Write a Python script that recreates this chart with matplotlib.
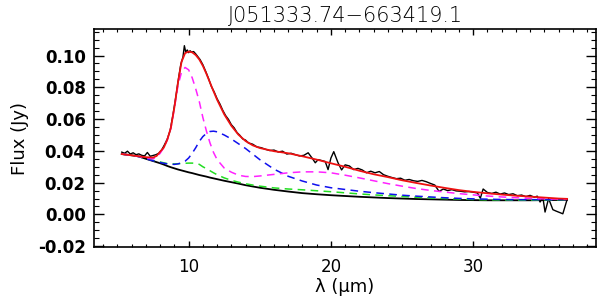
import matplotlib
matplotlib.use("Agg")
import matplotlib.pyplot as plt
from matplotlib.ticker import MultipleLocator, FormatStrFormatter

plt.rcParams['font.family'] = ['DejaVu Sans']

# model grid (micron)
lam_mod = [5.3, 6.0, 6.5, 7.0, 7.5, 7.75, 8.0, 8.25, 8.5, 8.75, 9.0, 9.25, 9.5, 9.75,
           10.0, 10.25, 10.5, 10.75, 11.0, 11.25, 11.5, 11.75, 12.0, 12.5, 13.0, 13.5,
           14.0, 14.5, 15.0, 16.0, 17.0, 18.0, 19.0, 20.0, 21.0, 22.0, 23.0, 24.0, 25.0,
           26.0, 27.0, 28.0, 29.0, 30.0, 31.0, 32.0, 33.0, 34.0, 35.0, 36.0, 36.6]

# stellar / dust continuum (black solid)
cont = [0.0380, 0.0372, 0.0365, 0.0350, 0.0336, 0.0329, 0.0322, 0.0314, 0.0305, 0.0297,
        0.0290, 0.0283, 0.0277, 0.0271, 0.0265, 0.0260, 0.0254, 0.0248, 0.0243, 0.0238,
        0.0232, 0.0227, 0.0222, 0.0212, 0.0203, 0.0194, 0.0184, 0.0176, 0.0168, 0.0155,
        0.0144, 0.0134, 0.0127, 0.0121, 0.0116, 0.0111, 0.0107, 0.0103, 0.0100, 0.0097,
        0.0095, 0.0093, 0.0091, 0.0090, 0.0089, 0.0089, 0.0089, 0.0089, 0.0090, 0.0091,
        0.0092]

# continuum + component curves (dashed)
comp_green = [0.0380, 0.0372, 0.0365, 0.0352, 0.0340, 0.0335, 0.0330, 0.0325, 0.0320, 0.0318,
              0.0318, 0.0319, 0.0320, 0.0322, 0.0323, 0.0323, 0.0322, 0.0315, 0.0300, 0.0288,
              0.0275, 0.0262, 0.0250, 0.0230, 0.0215, 0.0203, 0.0193, 0.0185, 0.0178, 0.0167,
              0.0160, 0.0155, 0.0149, 0.0143, 0.0136, 0.0129, 0.0123, 0.0118, 0.0113, 0.0108,
              0.0104, 0.0100, 0.0097, 0.0094, 0.0092, 0.0091, 0.0090, 0.0090, 0.0091, 0.0092,
              0.0093]

comp_magenta = [0.0380, 0.0372, 0.0365, 0.0355, 0.0350, 0.0360, 0.0385, 0.0420, 0.0470, 0.0540,
                0.0670, 0.0810, 0.0895, 0.0925, 0.0910, 0.0860, 0.0790, 0.0710, 0.0610, 0.0525,
                0.0450, 0.0390, 0.0345, 0.0292, 0.0266, 0.0247, 0.0239, 0.0238, 0.0242, 0.0252,
                0.0262, 0.0268, 0.0268, 0.0262, 0.0247, 0.0230, 0.0212, 0.0194, 0.0178, 0.0163,
                0.0151, 0.0141, 0.0131, 0.0123, 0.0116, 0.0110, 0.0105, 0.0101, 0.0098, 0.0096,
                0.0095]

comp_blue = [0.0380, 0.0372, 0.0364, 0.0350, 0.0338, 0.0332, 0.0327, 0.0322, 0.0318, 0.0316,
             0.0315, 0.0318, 0.0325, 0.0335, 0.0355, 0.0385, 0.0420, 0.0460, 0.0490, 0.0510,
             0.0522, 0.0524, 0.0520, 0.0500, 0.0475, 0.0445, 0.0415, 0.0380, 0.0345, 0.0285,
             0.0240, 0.0210, 0.0185, 0.0168, 0.0157, 0.0146, 0.0137, 0.0129, 0.0121, 0.0115,
             0.0110, 0.0105, 0.0101, 0.0098, 0.0096, 0.0094, 0.0093, 0.0093, 0.0093, 0.0093,
             0.0094]

# total model (red)
model_total = [0.0380, 0.0372, 0.0366, 0.0360, 0.0358, 0.0368, 0.0395, 0.0420, 0.0470, 0.0545,
               0.0675, 0.0830, 0.0960, 0.1015, 0.1025, 0.1020, 0.1003, 0.0975, 0.0935, 0.0885,
               0.0830, 0.0775, 0.0722, 0.0630, 0.0558, 0.0502, 0.0462, 0.0435, 0.0418, 0.0398,
               0.0385, 0.0366, 0.0345, 0.0322, 0.0300, 0.0275, 0.0253, 0.0235, 0.0215, 0.0198,
               0.0182, 0.0167, 0.0153, 0.0142, 0.0133, 0.0125, 0.0118, 0.0112, 0.0106, 0.0100,
               0.0098]

# observed spectrum (black)
lam_obs = [5.3, 5.5, 5.7, 5.9, 6.1, 6.3, 6.5, 6.7, 6.9, 7.1, 7.3, 7.5, 7.7, 7.9,
           8.1, 8.3, 8.5, 8.7, 8.9, 9.1, 9.3, 9.45, 9.6, 9.7, 9.8, 9.9, 10.0, 10.1,
           10.2, 10.35, 10.5, 10.65, 10.8, 11.0, 11.2, 11.4, 11.6, 11.8, 12.0, 12.2,
           12.4, 12.6, 12.8, 13.0, 13.2, 13.4, 13.6, 13.8, 14.0,
           14.2, 14.5, 14.8, 15.1, 15.4, 15.7, 16.0, 16.3, 16.6, 16.9, 17.2, 17.5,
           17.8, 18.1, 18.4, 18.7, 18.9, 19.1, 19.4, 19.6, 19.8, 20.0, 20.2, 20.3,
           20.5, 20.75, 21.0, 21.3, 21.6, 21.9, 22.2, 22.5, 22.8, 23.1, 23.4, 23.7,
           24.0, 24.3, 24.6, 24.9, 25.2, 25.5, 25.8, 26.1, 26.4, 26.7, 27.0, 27.3,
           27.6, 27.9, 28.2, 28.5, 28.8, 29.1, 29.4, 29.7, 30.0, 30.3, 30.5, 30.7,
           31.0, 31.3, 31.6, 31.9, 32.2, 32.5, 32.8, 33.1, 33.4, 33.7, 34.0, 34.3,
           34.5, 34.7, 34.9, 35.05, 35.3, 35.6, 35.8, 36.3, 36.6]
flux_obs = [0.0392, 0.0385, 0.0398, 0.0380, 0.0388, 0.0376, 0.0381, 0.0372, 0.0368, 0.0390,
            0.0366, 0.0371, 0.0376, 0.0385,
            0.0405, 0.0438, 0.0475, 0.0528, 0.0628, 0.0740, 0.0862, 0.0945, 0.0990, 0.1062,
            0.1020, 0.1035, 0.1018, 0.1030, 0.1022, 0.1025, 0.1010, 0.0992, 0.0975, 0.0942,
            0.0900, 0.0855, 0.0805, 0.0770, 0.0728, 0.0695, 0.0655, 0.0622, 0.0598, 0.0565,
            0.0545, 0.0515, 0.0498, 0.0475, 0.0468,
            0.0450, 0.0442, 0.0425, 0.0420, 0.0410, 0.0402, 0.0405, 0.0393, 0.0398, 0.0380,
            0.0385, 0.0376, 0.0368, 0.0372, 0.0388, 0.0352, 0.0325, 0.0345, 0.0338, 0.0333,
            0.0282, 0.0355, 0.0395, 0.0372, 0.0325, 0.0280, 0.0312, 0.0305, 0.0282, 0.0290,
            0.0280, 0.0262, 0.0272, 0.0262, 0.0270, 0.0250, 0.0240, 0.0232, 0.0225, 0.0228,
            0.0215, 0.0220, 0.0212, 0.0208, 0.0214, 0.0206, 0.0195, 0.0185, 0.0145, 0.0160,
            0.0150, 0.0156, 0.0148, 0.0146, 0.0142, 0.0144, 0.0140, 0.0135, 0.0102, 0.0160,
            0.0138, 0.0132, 0.0140, 0.0128, 0.0135, 0.0125, 0.0130, 0.0118, 0.0122, 0.0112,
            0.0120, 0.0108, 0.0115, 0.0078, 0.0105, 0.0015, 0.0100, 0.0030, 0.0022, 0.0004,
            0.0094]

fig = plt.figure(figsize=(6.0, 3.03), dpi=100)
ax = fig.add_axes([0.1567, 0.1848, 0.8366, 0.7195])

ax.plot(lam_obs, flux_obs, color='black', lw=1.0)
ax.plot(lam_mod, cont, color='black', lw=1.3)
dash = (0, (5, 3.5))
ax.plot(lam_mod, comp_green, color='#22dd22', lw=1.1, linestyle=dash)
ax.plot(lam_mod, comp_blue, color='#1010ee', lw=1.1, linestyle=dash)
ax.plot(lam_mod, comp_magenta, color='#ff22ff', lw=1.1, linestyle=dash)
ax.plot(lam_mod, model_total, color='#ee1111', lw=1.3)

ax.set_xlim(3.35, 38.63)
ax.set_ylim(-0.0205, 0.1167)

ax.xaxis.set_major_locator(MultipleLocator(10))
ax.xaxis.set_minor_locator(MultipleLocator(1))
ax.yaxis.set_major_locator(MultipleLocator(0.02))
ax.yaxis.set_minor_locator(MultipleLocator(0.005))
ax.yaxis.set_major_formatter(FormatStrFormatter('%.2f'))

ax.tick_params(axis='x', which='major', direction='in', length=4.0, width=1.0,
               top=True, bottom=True, labelsize=12, pad=8)
ax.tick_params(axis='x', which='minor', direction='in', length=2.0, width=0.8,
               top=True, bottom=True)
ax.tick_params(axis='y', which='major', direction='in', length=7.2, width=1.0,
               left=True, right=True, labelsize=12, pad=6)
ax.tick_params(axis='y', which='minor', direction='in', length=3.6, width=0.8,
               left=True, right=True)
for lab in ax.get_yticklabels():
    lab.set_fontweight('bold')
for sp in ax.spines.values():
    sp.set_linewidth(1.2)

ax.set_xlabel('λ (μm)', fontsize=13, labelpad=1)
ax.set_ylabel('Flux (Jy)', fontsize=13, labelpad=6)
ax.set_title('J051333.74−663419.1', fontsize=15, fontweight='light', pad=5)

fig.savefig('out.png', dpi=100)
